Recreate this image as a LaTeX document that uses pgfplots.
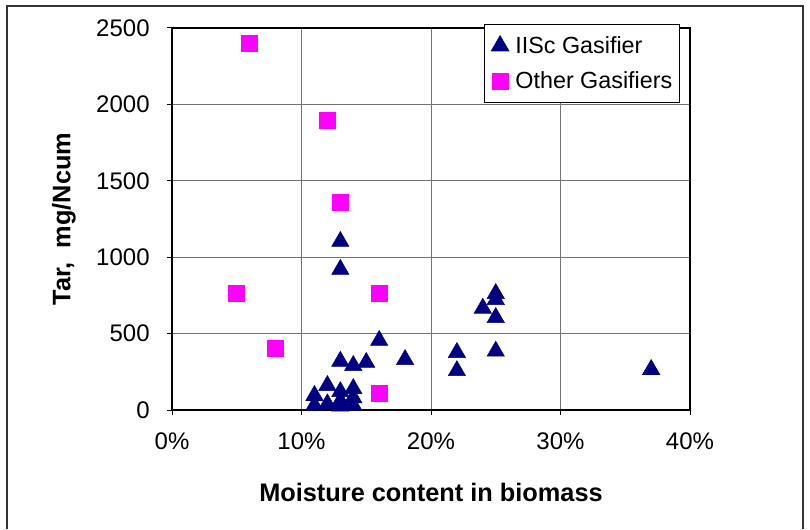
\documentclass[border=0pt]{standalone}
\usepackage{fontspec}
\setmainfont{Liberation Sans}
\usepackage{pgfplots}
\pgfplotsset{compat=1.18}
\definecolor{navyTri}{HTML}{000080}
\definecolor{magSq}{HTML}{FF00FF}
\begin{document}
\begin{tikzpicture}
\path[use as bounding box] (0,0) rectangle (607.5pt,396.75pt);
\draw[line width=1.5pt, black!80] (5.25pt,0pt) -- (5.25pt,392.25pt) -- (602.25pt,392.25pt) -- (602.25pt,0pt);
\begin{axis}[
  scale only axis,
  width=388.5pt, height=286.5pt,
  at={(129pt,89.25pt)}, anchor=south west,
  xmin=0, xmax=0.4, ymin=0, ymax=2500,
  xtick={0,0.1,0.2,0.3,0.4},
  xticklabels={0\%,10\%,20\%,30\%,40\%},
  ytick={0,500,1000,1500,2000,2500},
  yticklabels={0,500,1000,1500,2000,2500},
  tick pos=left, tick align=outside,
  major tick length=3.75pt,
  tick style={black, line width=0.75pt},
  axis line style={black, line width=2pt},
  grid=major,
  major grid style={black!55, line width=0.75pt},
  ticklabel style={font=\fontsize{18}{20}\selectfont},
  xticklabel shift=10pt,
  yticklabel shift=9.5pt,
  clip=false,
  xlabel={\bfseries Moisture content in biomass},
  ylabel={\bfseries Tar,\ \ mg/Ncum},
  xlabel style={font=\fontsize{19}{22}\selectfont, at={(axis description cs:0.5,-0.217)}, anchor=center},
  ylabel style={font=\fontsize{19}{22}\selectfont, at={(axis description cs:-0.2085,0.5)}, anchor=center, rotate=0},
  legend style={at={(axis description cs:0.981,1.0105)}, anchor=north east,
    draw=black, line width=0.75pt, fill=white,
    font=\fontsize{17.5}{21}\selectfont,
    inner xsep=3.5pt, inner ysep=7pt, row sep=8.5pt},
  legend cell align=left,
  legend image code/.code={\path[draw=none,fill=none] (-1.8pt,-0.5pt) rectangle (15.7pt,0.5pt);\draw[only marks] plot coordinates {(6.2pt,0pt)};},
]
\addplot[only marks, mark=triangle*, mark size=7.5pt, color=navyTri, mark options={fill=navyTri, draw=navyTri}]
coordinates {
(0.11,95) (0.11,30) (0.12,160) (0.12,40) (0.13,120) (0.13,60) (0.13,25)
(0.14,140) (0.14,80) (0.14,30) (0.13,319) (0.14,291) (0.15,311)
(0.16,455) (0.18,330) (0.13,1103) (0.13,920) (0.22,376) (0.22,257)
(0.24,666) (0.25,762) (0.25,723) (0.25,605) (0.25,385) (0.37,265)
};
\addlegendentry{IISc Gasifier}
\addplot[only marks, mark=square*, mark size=6pt, color=magSq, mark options={fill=magSq, draw=magSq}]
coordinates {
(0.06,2398) (0.12,1895) (0.13,1358) (0.05,762) (0.08,402) (0.16,762) (0.16,108)
};
\addlegendentry{Other Gasifiers}
\end{axis}
\end{tikzpicture}
\end{document}
